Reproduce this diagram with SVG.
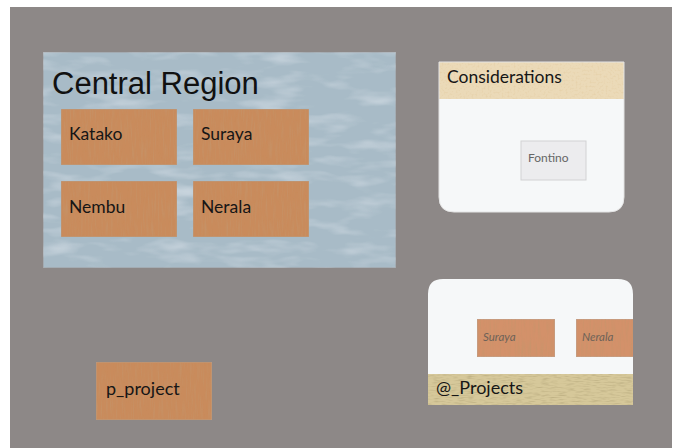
<svg xmlns="http://www.w3.org/2000/svg" width="680" height="448" viewBox="0 0 680 448">
<defs>
<style>
.lbl{font-family:Lato,"Open Sans","Liberation Sans",sans-serif;fill:#161616;font-size:17.5px}
.wood{fill:#C98B5B;stroke:#B89C86;stroke-width:1}
.inner{font-family:Lato,"Open Sans","Liberation Sans",sans-serif;font-style:italic;font-size:11.5px;fill:#6e6258}
</style>
<filter id="grain" x="0" y="0" width="100%" height="100%">
<feTurbulence type="fractalNoise" baseFrequency="0.6 0.05" numOctaves="2" seed="3" result="n"/>
<feColorMatrix in="n" type="matrix" values="0 0 0 0 0.55  0 0 0 0 0.3  0 0 0 0 0.15  1.4 0 0 0 -0.62" result="d"/>
<feComposite in="d" in2="SourceGraphic" operator="in" result="d2"/>
<feMerge><feMergeNode in="SourceGraphic"/><feMergeNode in="d2"/></feMerge>
</filter>
<filter id="water" x="0" y="0" width="100%" height="100%">
<feTurbulence type="fractalNoise" baseFrequency="0.02 0.07" numOctaves="3" seed="7" result="n"/>
<feColorMatrix in="n" type="matrix" values="0 0 0 0 0.85  0 0 0 0 0.9  0 0 0 0 0.95  0.9 0 0 0 -0.42" result="d"/>
<feComposite in="d" in2="SourceGraphic" operator="in" result="d2"/>
<feMerge><feMergeNode in="SourceGraphic"/><feMergeNode in="d2"/></feMerge>
</filter>
<filter id="sand" x="0" y="0" width="100%" height="100%">
<feTurbulence type="fractalNoise" baseFrequency="0.5" numOctaves="2" seed="11" result="n"/>
<feColorMatrix in="n" type="matrix" values="0 0 0 0 0.78  0 0 0 0 0.62  0 0 0 0 0.38  2 0 0 0 -0.95" result="d"/>
<feComposite in="d" in2="SourceGraphic" operator="in" result="d2"/>
<feMerge><feMergeNode in="SourceGraphic"/><feMergeNode in="d2"/></feMerge>
</filter>
<filter id="burlap" x="0" y="0" width="100%" height="100%">
<feTurbulence type="fractalNoise" baseFrequency="0.12 0.8" numOctaves="2" seed="5" result="n"/>
<feColorMatrix in="n" type="matrix" values="0 0 0 0 0.5  0 0 0 0 0.42  0 0 0 0 0.22  2 0 0 0 -0.9" result="d"/>
<feComposite in="d" in2="SourceGraphic" operator="in" result="d2"/>
<feMerge><feMergeNode in="SourceGraphic"/><feMergeNode in="d2"/></feMerge>
</filter>
<clipPath id="clipCons"><path d="M439 62 H624 V197 Q624 212 609 212 H454 Q439 212 439 197 Z"/></clipPath>
<clipPath id="clipProj"><path d="M443 279 H618 Q633 279 633 294 V405 H428 V294 Q428 279 443 279 Z"/></clipPath>
</defs>
<rect x="0" y="0" width="680" height="448" fill="#ffffff"/>
<rect x="10" y="7" width="662" height="441" fill="#8D8887"/>

<g id="connectors"></g>

<g id="central-region">
<rect x="43" y="52" width="353" height="216" fill="#A8BBC7" stroke="#9E9C9E" stroke-width="1" filter="url(#water)"/>
<text x="52" y="94" font-family="'Liberation Sans',Arial,sans-serif" font-size="31" fill="#111">Central Region</text>
</g>
<g id="katako">
<rect class="wood" x="61" y="109" width="116" height="56" filter="url(#grain)"/>
<text class="lbl" x="69" y="140">Katako</text>
</g>
<g id="suraya">
<rect class="wood" x="193" y="109" width="116" height="56" filter="url(#grain)"/>
<text class="lbl" x="201" y="140">Suraya</text>
</g>
<g id="nembu">
<rect class="wood" x="61" y="181" width="116" height="56" filter="url(#grain)"/>
<text class="lbl" x="69" y="213">Nembu</text>
</g>
<g id="nerala">
<rect class="wood" x="193" y="181" width="116" height="56" filter="url(#grain)"/>
<text class="lbl" x="201" y="213">Nerala</text>
</g>

<g id="considerations">
<g clip-path="url(#clipCons)">
<rect x="439" y="62" width="185" height="150" fill="#F6F8F9"/>
<rect x="439" y="62" width="185" height="37" fill="#EBDAB8" filter="url(#sand)"/>
</g>
<path d="M439 62 H624 V197 Q624 212 609 212 H454 Q439 212 439 197 Z" fill="none" stroke="#E4E4E4" stroke-width="1"/>
<text class="lbl" x="447" y="83">Considerations</text>
</g>
<g id="fontino">
<rect x="521" y="141" width="65" height="39" fill="#ECECEE" stroke="#D2D2D4" stroke-width="1"/>
<text x="528" y="162" font-family="Lato,'Open Sans','Liberation Sans',sans-serif" font-size="12" fill="#666">Fontino</text>
</g>

<g id="projects">
<g clip-path="url(#clipProj)">
<rect x="428" y="279" width="205" height="126" fill="#F6F8F9"/>
<rect x="428" y="374" width="205" height="31" fill="#D6C89A" filter="url(#burlap)"/>
<g id="projects-suraya">
<rect x="477" y="319" width="78" height="38" fill="#D3916A" stroke="#BDA696" stroke-width="1" filter="url(#grain)"/>
<text class="inner" x="483" y="341">Suraya</text>
</g>
<g id="projects-nerala">
<rect x="576" y="319" width="62" height="38" fill="#D3916A" stroke="#BDA696" stroke-width="1" filter="url(#grain)"/>
<text class="inner" x="582" y="341">Nerala</text>
</g>
</g>
<text class="lbl" x="436" y="394" style="font-size:18px">@_Projects</text>
</g>

<g id="p_project">
<rect class="wood" x="96" y="362" width="116" height="58" stroke="#A89A90" filter="url(#grain)"/>
<text class="lbl" x="106" y="395" style="font-size:18px">p_project</text>
</g>
</svg>
